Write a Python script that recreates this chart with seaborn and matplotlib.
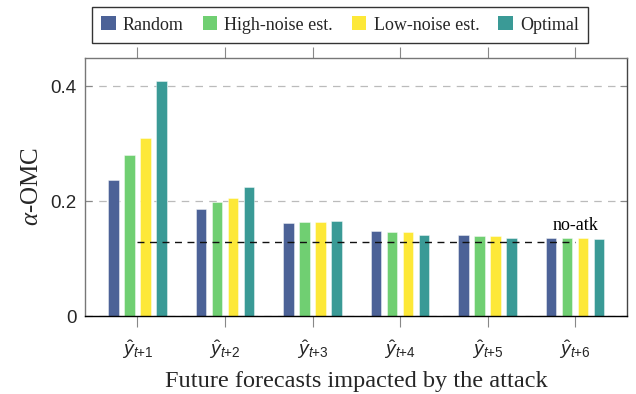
import matplotlib
matplotlib.use("Agg")
import matplotlib.pyplot as plt
import seaborn as sns
import pandas as pd

categories = [r"$\hat{y}_{t{+}1}$", r"$\hat{y}_{t{+}2}$", r"$\hat{y}_{t{+}3}$",
              r"$\hat{y}_{t{+}4}$", r"$\hat{y}_{t{+}5}$", r"$\hat{y}_{t{+}6}$"]
series_names = ["Random", "High-noise est.", "Low-noise est.", "Optimal"]
random_vals = [0.237, 0.186, 0.162, 0.148, 0.141, 0.137]
high_noise_vals = [0.280, 0.199, 0.164, 0.147, 0.140, 0.136]
low_noise_vals = [0.310, 0.205, 0.164, 0.146, 0.140, 0.136]
optimal_vals = [0.409, 0.225, 0.165, 0.142, 0.136, 0.134]
no_atk_value = 0.13
colors = ["#4c6297", "#70cf72", "#fde838", "#3a9a96"]

rows = []
for name, vals in zip(series_names, [random_vals, high_noise_vals, low_noise_vals, optimal_vals]):
    for c, v in zip(categories, vals):
        rows.append({"cat": c, "series": name, "value": v})
df = pd.DataFrame(rows)

sns.set_theme(style="white")
plt.rcParams["font.family"] = ["Liberation Serif", "DejaVu Serif"]
plt.rcParams["mathtext.fontset"] = "custom"
plt.rcParams["mathtext.it"] = "Liberation Sans:italic"
plt.rcParams["mathtext.rm"] = "Liberation Sans"
plt.rcParams["mathtext.bf"] = "Liberation Serif:italic"

fig = plt.figure(figsize=(6.36, 3.94), dpi=100)
ax = fig.add_axes([0.1336, 0.1972, 0.8518, 0.6564])

sns.barplot(data=df, x="cat", y="value", hue="series", hue_order=series_names,
            palette=colors, width=0.73, gap=0.33, ax=ax, legend=True,
            edgecolor=(1, 1, 1, 0.5), linewidth=0.6, saturation=1)

ax.plot([0, 5], [no_atk_value, no_atk_value], ls=(0, (5, 4)), color="#111111", lw=1.0, zorder=5)
ax.text(5, 0.144, "no-atk", ha="center", va="bottom", fontsize=13, color="black")

ax.set_xlim(-0.6, 5.59)
ax.set_ylim(0, 0.45)
ax.set_yticks([0, 0.2, 0.4])
ax.set_yticklabels(["0", "0.2", "0.4"], fontfamily="Liberation Sans", fontsize=13.5)
for lbl in ax.get_xticklabels():
    lbl.set_fontsize(14)
ax.yaxis.grid(True, ls=(0, (6, 5)), color="#bbbbbb", lw=0.9)
ax.set_axisbelow(True)

ax.tick_params(axis="x", direction="out", length=8, width=0.8, color="#888888",
               top=True, bottom=True, pad=8)
ax.tick_params(axis="y", direction="in", length=5, width=0.8, color="#888888",
               left=True, right=True, pad=6)

ax.set_xlabel("Future forecasts impacted by the attack", fontsize=17.5, labelpad=7)
ax.set_ylabel(r"$\mathbf{\alpha}$-OMC", fontsize=18, labelpad=5)

ax.spines["left"].set_color("#777777")
ax.spines["top"].set_color("#777777")
ax.spines["right"].set_color("#444444")
ax.spines["bottom"].set_color("black")
for s in ax.spines.values():
    s.set_linewidth(1.0)

leg = ax.legend(loc="center", bbox_to_anchor=(340 / 636, 1 - 25 / 394),
                bbox_transform=fig.transFigure, ncol=4, frameon=True,
                fontsize=13, handlelength=0.8, handleheight=0.8,
                columnspacing=1.05, handletextpad=0.4, borderpad=0.5,
                fancybox=False, edgecolor="black")
leg.get_frame().set_linewidth(1.0)
for h in leg.legend_handles:
    h.set_edgecolor("none")

fig.savefig("out.png", dpi=100)
